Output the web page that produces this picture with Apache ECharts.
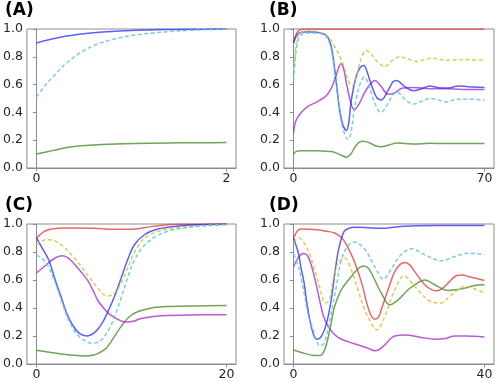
<!DOCTYPE html>
<html>
<head>
<meta charset="utf-8">
<title>panels</title>
<script src="https://cdn.jsdelivr.net/npm/echarts@6/dist/echarts.min.js"></script>
<style>html,body{margin:0;padding:0;background:#fff}#chartmain{width:498px;height:381px}</style>
</head>
<body>
<div id="chartmain"></div>
<script>
// panel labels and x tick values
var panelNames = ['(A)', '(B)', '(C)', '(D)'];
var xTicks = [[0, 2], [0, 70], [0, 20], [0, 40]];
var xRange = [[-0.1, 2.1], [-3.5, 73.5], [-1, 21], [-2, 42]];

// (A)
var aBlue = [[0,0.9],[0.25,0.94],[0.5,0.965],[0.75,0.98],[1,0.99],[1.25,0.995],[1.5,0.997],[1.75,0.999],[2,1.0]];
var aCyan = [[0,0.51],[0.1,0.6],[0.2,0.675],[0.3,0.745],[0.4,0.8],[0.5,0.845],[0.6,0.88],[0.7,0.905],[0.8,0.925],[0.9,0.94],[1,0.953],[1.2,0.97],[1.4,0.982],[1.6,0.99],[1.8,0.995],[2,0.998]];
var aGreen = [[0,0.1],[0.17,0.125],[0.34,0.149],[0.51,0.161],[0.69,0.169],[1.03,0.176],[1.38,0.18],[1.7,0.182],[2,0.183]];

// (B)
var bRed = [[0,0.9],[1,0.965],[2,0.99],[3,0.998],[5,1],[70,1]];
var bBlue = [[0,0.9],[1,0.95],[2,0.97],[4,0.978],[7,0.978],[10,0.972],[12,0.955],[13.5,0.9],[14.5,0.8],[15.7,0.61],[16.9,0.42],[18.1,0.31],[19.4,0.27],[20.2,0.32],[21.2,0.49],[23,0.66],[24.5,0.725],[25.8,0.737],[27,0.69],[28,0.63],[30.4,0.51],[32.2,0.49],[34.7,0.56],[36.5,0.62],[37.8,0.63],[40.8,0.585],[43.9,0.555],[47,0.57],[50,0.59],[53,0.578],[56.8,0.576],[60.4,0.59],[64,0.585],[70,0.58]];
var bCyan = [[0,0.63],[1,0.85],[2,0.94],[3,0.96],[5,0.972],[8,0.972],[10,0.965],[12,0.945],[13.5,0.88],[14.5,0.78],[15.7,0.6],[17,0.4],[18.3,0.27],[20,0.205],[21,0.25],[22.3,0.42],[24,0.58],[26,0.655],[27.5,0.6],[29.5,0.48],[32,0.4],[34.5,0.46],[36.5,0.53],[38,0.545],[41,0.49],[44,0.46],[47,0.48],[50,0.5],[53,0.49],[56,0.475],[60,0.495],[64,0.495],[70,0.49]];
var bYellow = [[0,0.7],[1,0.9],[2,0.96],[4,0.985],[6,0.99],[8,0.985],[10,0.97],[12.6,0.947],[15,0.875],[17.5,0.78],[19,0.7],[20,0.634],[21.5,0.59],[23,0.66],[25,0.8],[26.7,0.846],[28.5,0.82],[31,0.76],[33.5,0.73],[36,0.77],[39,0.8],[42,0.785],[45,0.766],[48,0.78],[51,0.79],[56,0.775],[62,0.78],[70,0.775]];
var bMagenta = [[0,0.25],[0.7,0.33],[2,0.38],[5,0.44],[9,0.48],[12,0.52],[14,0.58],[15.5,0.66],[16.5,0.72],[17.3,0.75],[18.3,0.72],[19.5,0.6],[21,0.47],[22.2,0.42],[24,0.46],[26,0.54],[28,0.6],[29.8,0.63],[32,0.59],[34.7,0.53],[37,0.54],[40,0.575],[44,0.58],[50,0.57],[56,0.57],[62,0.565],[70,0.565]];
var bGreen = [[0,0.1],[1,0.12],[3,0.125],[8,0.125],[12,0.12],[14,0.118],[16,0.105],[17.5,0.092],[19.4,0.078],[21,0.1],[22.5,0.15],[24,0.185],[25.5,0.193],[28,0.18],[30,0.16],[32,0.152],[35,0.165],[38,0.18],[41,0.176],[44,0.172],[50,0.178],[56,0.176],[63,0.177],[70,0.176]];

// (C)
var cRed = [[0,0.897],[0.8,0.945],[1.6,0.964],[3,0.971],[6,0.97],[8,0.962],[10,0.962],[11.5,0.975],[13,0.99],[15,0.998],[20,1.0]];
var cBlue = [[0,0.9],[0.6,0.83],[1.29,0.744],[1.98,0.6],[2.6,0.48],[3.2,0.36],[3.8,0.28],[4.5,0.22],[5.3,0.2],[6.2,0.23],[6.9,0.29],[7.5,0.37],[8.2,0.48],[8.9,0.61],[9.6,0.745],[10.3,0.85],[11.4,0.925],[12.8,0.964],[14.5,0.983],[17.3,0.995],[20,1.0]];
var cCyan = [[0,0.776],[0.5,0.76],[1.1,0.715],[1.6,0.645],[2.2,0.54],[2.85,0.41],[3.5,0.3],[4.2,0.22],[4.8,0.18],[5.8,0.148],[6.6,0.16],[7.2,0.2],[7.8,0.27],[8.4,0.37],[9,0.49],[9.6,0.615],[10.3,0.74],[11.4,0.85],[12.8,0.92],[14.5,0.96],[17.3,0.985],[20,0.995]];
var cYellow = [[0,0.85],[0.5,0.875],[1.1,0.888],[1.7,0.885],[2.3,0.866],[3,0.83],[3.7,0.78],[4.4,0.725],[5.1,0.66],[5.8,0.6],[6.5,0.54],[7,0.5],[7.5,0.485],[8,0.495],[8.6,0.54],[9.2,0.62],[9.8,0.72],[10.4,0.81],[11.4,0.9],[12.8,0.947],[14.5,0.97],[17.3,0.988],[20,0.995]];
var cMagenta = [[0,0.65],[0.9,0.7],[1.8,0.75],[2.75,0.773],[3.4,0.755],[4.06,0.709],[4.8,0.65],[5.46,0.59],[6,0.52],[6.5,0.45],[7.2,0.39],[7.9,0.345],[8.9,0.308],[9.5,0.3],[10.2,0.305],[11,0.325],[13.1,0.344],[17.3,0.351],[20,0.352]];
var cGreen = [[0,0.098],[1.2,0.085],[2.3,0.075],[3.8,0.063],[5.1,0.057],[5.9,0.062],[6.5,0.076],[7,0.095],[7.5,0.124],[8.2,0.196],[8.9,0.267],[9.8,0.339],[10.7,0.375],[12,0.399],[13.8,0.41],[16.6,0.415],[20,0.418]];

// (D)
var dRed = [[0,0.9],[0.8,0.95],[1.6,0.964],[4.4,0.96],[7.2,0.947],[8.6,0.936],[10,0.905],[10.9,0.864],[12,0.79],[13,0.709],[14.4,0.565],[15.3,0.44],[16.2,0.35],[17,0.32],[17.8,0.335],[18.5,0.4],[19.8,0.53],[21.2,0.66],[22.3,0.71],[23.3,0.725],[24.3,0.71],[25.4,0.66],[27.5,0.566],[29,0.53],[30,0.523],[31.7,0.554],[33,0.6],[34.2,0.632],[35.5,0.635],[36.6,0.625],[40,0.597]];
var dBlue = [[0,0.9],[0.5,0.85],[1.11,0.78],[1.6,0.68],[2.16,0.59],[2.86,0.42],[3.5,0.3],[4.1,0.22],[4.8,0.177],[5.8,0.196],[6.9,0.29],[7.9,0.458],[8.7,0.66],[9.5,0.828],[10.6,0.947],[11.6,0.97],[12.8,0.976],[15,0.975],[18.4,0.969],[21.9,0.98],[25.4,0.988],[30,0.99],[40,0.99]];
var dCyan = [[0,0.785],[1.1,0.685],[2.16,0.52],[3,0.363],[4.1,0.243],[4.8,0.17],[5.5,0.13],[6.2,0.14],[6.9,0.2],[7.9,0.363],[9,0.56],[10,0.74],[11.4,0.845],[12.8,0.871],[14.9,0.82],[17,0.697],[18.8,0.606],[20.5,0.68],[22.5,0.78],[24.7,0.823],[27.5,0.78],[31,0.737],[33.8,0.768],[36.6,0.792],[40,0.78]];
var dYellow = [[0,0.87],[1.1,0.9],[2,0.875],[3.2,0.8],[4.3,0.69],[5.3,0.57],[6.3,0.45],[6.8,0.435],[7.5,0.46],[8.3,0.6],[9.3,0.72],[10.7,0.757],[12.1,0.673],[13.5,0.53],[14.9,0.387],[16.3,0.29],[17.4,0.243],[19.1,0.339],[21.2,0.53],[23.2,0.63],[25.4,0.554],[28.2,0.458],[30.7,0.434],[33.1,0.494],[35.9,0.554],[40,0.506]];
var dMagenta = [[0,0.695],[1,0.76],[2,0.79],[2.8,0.78],[3.6,0.72],[4.6,0.59],[5.5,0.45],[6.3,0.34],[7.4,0.26],[9.3,0.19],[11.4,0.16],[14.2,0.129],[15.8,0.11],[17,0.095],[17.8,0.1],[19.1,0.136],[20.3,0.18],[21.2,0.2],[23.3,0.208],[26.8,0.19],[29.6,0.177],[31.5,0.18],[33.8,0.2],[36,0.2],[40,0.193]];
var dGreen = [[0,0.1],[2.3,0.076],[4.4,0.06],[5.5,0.06],[6.5,0.1],[7.6,0.243],[8.6,0.41],[10,0.53],[12.1,0.625],[13.5,0.68],[14.6,0.7],[15.5,0.69],[16.3,0.65],[18.4,0.506],[20.2,0.422],[21.9,0.458],[24,0.53],[26,0.58],[27.5,0.6],[29.6,0.566],[32.4,0.525],[34,0.53],[35.9,0.542],[38,0.56],[40,0.566]];

var COL = {
  red: 'rgba(228,60,60,0.78)',
  blue: 'rgba(40,40,255,0.75)',
  cyan: 'rgba(95,200,210,0.85)',
  yellow: 'rgba(205,200,60,0.85)',
  magenta: 'rgba(165,45,200,0.78)',
  green: 'rgba(70,140,40,0.78)'
};

var grids = [
  {left: 25, top: 29, width: 211, height: 139},
  {left: 284, top: 29, width: 210, height: 139},
  {left: 25, top: 224, width: 211, height: 140},
  {left: 284, top: 224, width: 210, height: 140}
];
var titlePos = [[5, 2], [269, 2], [5, 197], [269, 197]];

function mkLine(data, color, dashed, idx) {
  return {
    type: 'line', data: data, xAxisIndex: idx, yAxisIndex: idx,
    symbol: 'none', smooth: 0.35, silent: true,
    lineStyle: {color: color, width: 1.5, type: dashed ? [4, 2.5] : 'solid'}
  };
}

var series = [
  mkLine(aGreen, COL.green, false, 0),
  mkLine(aBlue, COL.blue, false, 0),
  mkLine(aCyan, COL.cyan, true, 0),

  mkLine(bRed, COL.red, false, 1),
  mkLine(bGreen, COL.green, false, 1),
  mkLine(bMagenta, COL.magenta, false, 1),
  mkLine(bBlue, COL.blue, false, 1),
  mkLine(bYellow, COL.yellow, true, 1),
  mkLine(bCyan, COL.cyan, true, 1),

  mkLine(cRed, COL.red, false, 2),
  mkLine(cGreen, COL.green, false, 2),
  mkLine(cMagenta, COL.magenta, false, 2),
  mkLine(cBlue, COL.blue, false, 2),
  mkLine(cYellow, COL.yellow, true, 2),
  mkLine(cCyan, COL.cyan, true, 2),

  mkLine(dRed, COL.red, false, 3),
  mkLine(dGreen, COL.green, false, 3),
  mkLine(dMagenta, COL.magenta, false, 3),
  mkLine(dBlue, COL.blue, false, 3),
  mkLine(dYellow, COL.yellow, true, 3),
  mkLine(dCyan, COL.cyan, true, 3)
];

var labelFont = {color: '#262626', fontSize: 12.5, fontFamily: 'DejaVu Sans'};
var spine = {lineStyle: {color: '#8c8c8c', width: 1}};

var option = {
  animation: false,
  backgroundColor: '#fff',
  title: panelNames.map(function (n, i) {
    return {text: n, left: titlePos[i][0], top: titlePos[i][1], padding: 0,
      textStyle: {fontSize: 17, fontWeight: 'bold', fontFamily: 'DejaVu Sans', color: '#000'}};
  }),
  grid: grids.map(function (g) {
    return Object.assign({show: true, borderColor: '#8c8c8c', borderWidth: 1, backgroundColor: 'transparent'}, g);
  }),
  xAxis: xTicks.map(function (t, i) {
    return {
      type: 'value', gridIndex: i, min: xRange[i][0], max: xRange[i][1],
      axisLine: spine,
      axisTick: {show: true, length: 3.5, lineStyle: {color: '#8c8c8c'}, customValues: t},
      axisLabel: Object.assign({margin: 4, customValues: t, formatter: function (v) { return String(v); }}, labelFont),
      splitLine: {show: false}
    };
  }),
  yAxis: grids.map(function (g, i) {
    return {
      type: 'value', gridIndex: i, min: 0, max: 1, interval: 0.2,
      axisLine: Object.assign({show: true}, spine),
      axisTick: {show: true, length: 3.5, lineStyle: {color: '#8c8c8c'}},
      axisLabel: Object.assign({margin: 4, formatter: function (v) { return v.toFixed(1); }}, labelFont),
      splitLine: {show: false}
    };
  }),
  series: series
};

var myChart = echarts.init(document.getElementById('chartmain'));
myChart.setOption(option);
</script>
</body>
</html>
